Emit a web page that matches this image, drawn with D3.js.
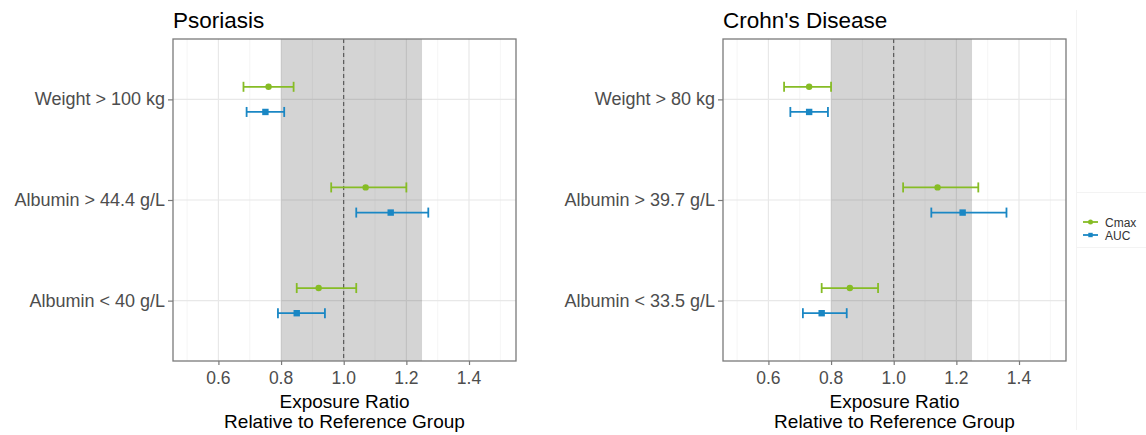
<!DOCTYPE html>
<meta charset="utf-8">
<style>
body { margin: 0; background: #fff; }
text { font-family: "Liberation Sans", Arial, sans-serif; }
</style>
<body>
<script src="https://d3js.org/d3.v7.min.js"></script>
<script>

width = 1146;
height = 435;

panelTitles = ["Psoriasis", "Crohn's Disease"];

psoCats = ["Weight > 100 kg", "Albumin > 44.4 g/L", "Albumin < 40 g/L"];
psoCmax = [0.76, 1.07, 0.92];
psoCmaxLo = [0.68, 0.96, 0.85];
psoCmaxHi = [0.84, 1.20, 1.04];
psoAuc = [0.75, 1.15, 0.85];
psoAucLo = [0.69, 1.04, 0.79];
psoAucHi = [0.81, 1.27, 0.94];

cdCats = ["Weight > 80 kg", "Albumin > 39.7 g/L", "Albumin < 33.5 g/L"];
cdCmax = [0.73, 1.14, 0.86];
cdCmaxLo = [0.65, 1.03, 0.77];
cdCmaxHi = [0.80, 1.27, 0.95];
cdAuc = [0.73, 1.22, 0.77];
cdAucLo = [0.67, 1.12, 0.71];
cdAucHi = [0.79, 1.36, 0.85];

xTicks = [0.6, 0.8, 1.0, 1.2, 1.4];
xMinor = [0.5, 0.7, 0.9, 1.1, 1.3, 1.5];
refBand = [0.8, 1.25];
refLine = 1.0;

seriesNames = ["Cmax", "AUC"];
seriesColors = ["#86bc25", "#1a87c4"];

function rows(cats, est, lo, hi, series) {
  return cats.map((c, i) => ({cat: c, series: series, est: est[i], lo: lo[i], hi: hi[i]}));
}

panels = [
  {title: panelTitles[0], cats: psoCats, left: 173,
   data: rows(psoCats, psoCmax, psoCmaxLo, psoCmaxHi, "Cmax").concat(rows(psoCats, psoAuc, psoAucLo, psoAucHi, "AUC"))},
  {title: panelTitles[1], cats: cdCats, left: 723,
   data: rows(cdCats, cdCmax, cdCmaxLo, cdCmaxHi, "Cmax").concat(rows(cdCats, cdAuc, cdAucLo, cdAucHi, "AUC"))}
];

color = d3.scaleOrdinal().domain(seriesNames).range(seriesColors);

var svg = d3.select("body").append("svg")
    .attr("width", width)
    .attr("height", height);

function label(g, x, y, txt, size, fill, anchor) {
  return g.append("text")
    .attr("x", x).attr("y", y)
    .attr("text-anchor", anchor || "start")
    .style("font-size", size + "px")
    .style("fill", fill)
    .text(txt);
}

// faint legend box outline from the original export
svg.append("line").attr("x1", 1076.5).attr("x2", 1076.5).attr("y1", 10).attr("y2", 430)
  .attr("stroke", "#f3f3f3");
svg.append("line").attr("x1", 1076).attr("x2", 1146).attr("y1", 192.5).attr("y2", 192.5)
  .attr("stroke", "#f3f3f3");
svg.append("line").attr("x1", 1076).attr("x2", 1146).attr("y1", 247.5).attr("y2", 247.5)
  .attr("stroke", "#f3f3f3");

top_ = 39;
bottom_ = 361;
pw = 343;

panels.forEach(p => {
  var x = d3.scaleLinear([0.455, 1.55], [p.left, p.left + pw]);
  var y = d3.scalePoint(p.cats, [top_, bottom_]).padding(0.6);
  var dodge = y.step() * 0.125;
  var g = svg.append("g");

  // grid
  g.selectAll(".minor").data(xMinor).join("line")
    .attr("x1", d => x(d)).attr("x2", d => x(d))
    .attr("y1", top_).attr("y2", bottom_)
    .attr("stroke", "#f2f2f2").attr("stroke-width", 0.8);
  g.selectAll(".major").data(xTicks).join("line")
    .attr("x1", d => x(d)).attr("x2", d => x(d))
    .attr("y1", top_).attr("y2", bottom_)
    .attr("stroke", "#e8e8e8").attr("stroke-width", 1.2);
  g.selectAll(".hmajor").data(p.cats).join("line")
    .attr("x1", p.left).attr("x2", p.left + pw)
    .attr("y1", d => y(d)).attr("y2", d => y(d))
    .attr("stroke", "#e8e8e8").attr("stroke-width", 1.2);

  // reference band and line
  g.append("rect")
    .attr("x", x(refBand[0])).attr("width", x(refBand[1]) - x(refBand[0]))
    .attr("y", top_).attr("height", bottom_ - top_)
    .attr("fill", "#000").attr("opacity", 0.17);
  g.append("line")
    .attr("x1", x(refLine)).attr("x2", x(refLine))
    .attr("y1", top_).attr("y2", bottom_)
    .attr("stroke", "#444").attr("stroke-width", 1)
    .attr("stroke-dasharray", "4,3");

  // error bars
  var yy = d => y(d.cat) + (d.series == "Cmax" ? -dodge : dodge);
  var bars = g.selectAll(".bar").data(p.data).join("g")
    .attr("stroke", d => color(d.series)).attr("fill", d => color(d.series));
  bars.append("line")
    .attr("x1", d => x(d.lo)).attr("x2", d => x(d.hi))
    .attr("y1", yy).attr("y2", yy).attr("stroke-width", 1.8);
  bars.append("line")
    .attr("x1", d => x(d.lo)).attr("x2", d => x(d.lo))
    .attr("y1", d => yy(d) - 5).attr("y2", d => yy(d) + 5).attr("stroke-width", 1.8);
  bars.append("line")
    .attr("x1", d => x(d.hi)).attr("x2", d => x(d.hi))
    .attr("y1", d => yy(d) - 5).attr("y2", d => yy(d) + 5).attr("stroke-width", 1.8);
  bars.filter(d => d.series == "Cmax").append("circle")
    .attr("cx", d => x(d.est)).attr("cy", yy).attr("r", 3.2).attr("stroke", "none");
  bars.filter(d => d.series == "AUC").append("rect")
    .attr("x", d => x(d.est) - 3.2).attr("y", d => yy(d) - 3.2)
    .attr("width", 6.4).attr("height", 6.4).attr("stroke", "none");

  // border
  g.append("rect")
    .attr("x", p.left).attr("y", top_).attr("width", pw).attr("height", bottom_ - top_)
    .attr("fill", "none").attr("stroke", "#7a7a7a").attr("stroke-width", 1.3);

  // axes
  var xa = g.append("g").attr("transform", `translate(0,${bottom_})`)
    .call(d3.axisBottom(x).tickValues(xTicks).tickFormat(d3.format(".1f")).tickSize(4).tickPadding(4));
  xa.select(".domain").remove();
  xa.selectAll("line").attr("stroke", "#7a7a7a").attr("stroke-width", 1.2);
  xa.selectAll("text").remove();
  xTicks.forEach(t => label(g, x(t), 383.5, d3.format(".1f")(t), 17.5, "#4d4d4d", "middle"));

  var ya = g.append("g").attr("transform", `translate(${p.left},0)`)
    .call(d3.axisLeft(y).tickSize(5));
  ya.select(".domain").remove();
  ya.selectAll("line").attr("stroke", "#7a7a7a").attr("stroke-width", 1.2);
  ya.selectAll("text").remove();
  p.cats.forEach(c => label(g, p.left - 8, y(c) + 6, c, 18, "#4d4d4d", "end"));

  // titles
  label(g, p.left, 27.5, p.title, 22.5, "#000", "start");
  var cx = p.left + pw / 2;
  label(g, cx, 407.5, "Exposure Ratio", 19, "#000", "middle");
  label(g, cx, 428, "Relative to Reference Group", 19, "#000", "middle");
});

// legend
seriesNames.forEach((s, i) => {
  var ly = 222 + i * 13;
  var lg = svg.append("g").attr("stroke", color(s)).attr("fill", color(s));
  lg.append("line").attr("x1", 1083).attr("x2", 1098).attr("y1", ly).attr("y2", ly).attr("stroke-width", 1.8);
  if (s == "Cmax") lg.append("circle").attr("cx", 1090.5).attr("cy", ly).attr("r", 2.5).attr("stroke", "none");
  else lg.append("rect").attr("x", 1088.3).attr("y", ly - 2.2).attr("width", 4.4).attr("height", 4.4).attr("stroke", "none");
  label(svg, 1105, ly + 4.5, s, 12, "#333", "start");
});

</script>
